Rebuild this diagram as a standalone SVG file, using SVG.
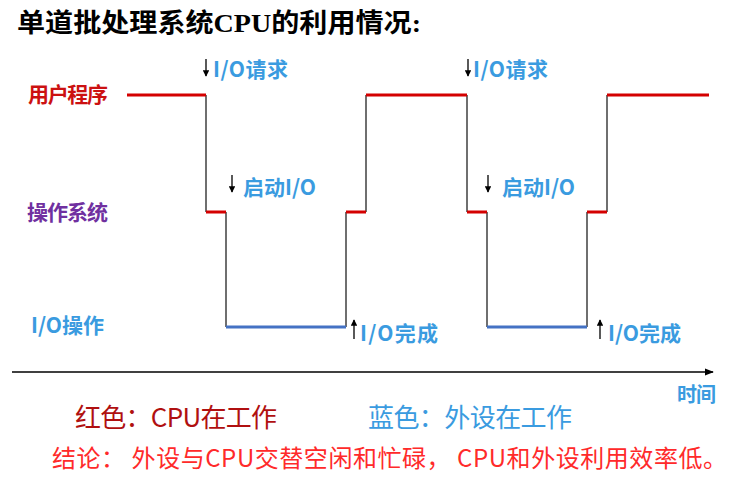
<svg xmlns="http://www.w3.org/2000/svg" width="744" height="483" viewBox="0 0 744 483">
<defs>
<style>
.t{font-family:"Noto Sans CJK SC","Liberation Sans",sans-serif}
.title{font-family:"Liberation Serif","Noto Sans CJK SC",serif;font-size:26px;font-weight:bold;fill:#000}
.lab{font-size:21px;font-weight:bold}
.ann{font-size:21px;font-weight:bold;fill:#3a9be0}
.cpu{stroke:#d40000;stroke-width:3;fill:none}
.io{stroke:#4472c4;stroke-width:3;fill:none}
.v{stroke:#333;stroke-width:1.4;fill:none}
.arr{stroke:#000;stroke-width:1.3;fill:none;marker-end:url(#ah)}
</style>
<marker id="ah" viewBox="0 0 10 10" refX="9" refY="5" markerWidth="5" markerHeight="5" orient="auto">
<path d="M0,0 L10,5 L0,10 z" fill="#000"/>
</marker>
<marker id="ax" viewBox="0 0 10 10" refX="9" refY="5" markerWidth="6" markerHeight="6" orient="auto">
<path d="M0,1 L10,5 L0,9 z" fill="#000"/>
</marker>
</defs>
<rect width="744" height="483" fill="#fff"/>
<text class="title" x="17" y="32" textLength="404" lengthAdjust="spacingAndGlyphs">单道批处理系统CPU的利用情况:</text>

<g id="label-user"><text class="t lab" x="28" y="102" fill="#cc1111" textLength="80">用户程序</text></g>
<g id="label-os"><text class="t lab" x="27" y="220" fill="#7030a0" textLength="81">操作系统</text></g>
<g id="label-io"><text class="t lab" x="31" y="333" fill="#3a9be0" textLength="73">I/O操作</text></g>

<g id="connectors">
<path class="v" d="M206,95 V212 M226,212 V327 M346,327 V212 M366,212 V95 M467,95 V212 M487,212 V327 M587,327 V212 M607,212 V95"/>
<path class="cpu" d="M127,95 H206 M206,212 H226 M346,212 H366 M366,95 H467 M467,212 H487 M587,212 H607 M607,95 H709"/>
<path class="io" d="M226,327 H346 M487,327 H587"/>
<line x1="12" y1="372" x2="713" y2="372" stroke="#000" stroke-width="1.5" marker-end="url(#ax)"/>
</g>

<g id="ann-ioreq-1"><line class="arr" x1="206" y1="59" x2="206" y2="76"/><text class="t ann" x="213" y="77" textLength="75">I/O请求</text></g>
<g id="ann-start-1"><line class="arr" x1="232" y1="175" x2="232" y2="192"/><text class="t ann" x="243" y="195" textLength="73">启动I/O</text></g>
<g id="ann-done-1"><line class="arr" x1="354" y1="339" x2="354" y2="320"/><text class="t ann" x="360" y="341" textLength="78">I/O完成</text></g>
<g id="ann-ioreq-2"><line class="arr" x1="468" y1="59" x2="468" y2="76"/><text class="t ann" x="473" y="77" textLength="75">I/O请求</text></g>
<g id="ann-start-2"><line class="arr" x1="488" y1="175" x2="488" y2="192"/><text class="t ann" x="502" y="195" textLength="73">启动I/O</text></g>
<g id="ann-done-2"><line class="arr" x1="600" y1="339" x2="600" y2="320"/><text class="t ann" x="608" y="341" textLength="73">I/O完成</text></g>

<g id="label-time"><text class="t" x="677" y="402" font-size="20" font-weight="bold" fill="#3a9be0" textLength="39">时间</text></g>
<g id="legend-red"><text class="t" x="75" y="427" font-size="26" fill="#b01010" textLength="202">红色：CPU在工作</text></g>
<g id="legend-blue"><text class="t" x="368" y="427" font-size="26" fill="#3a9be0" textLength="204">蓝色：外设在工作</text></g>
<g id="conclusion"><text class="t" x="52" y="467" font-size="24" fill="#ff2a2a" textLength="675" lengthAdjust="spacing">结论： 外设与CPU交替空闲和忙碌， CPU和外设利用效率低。</text></g>
</svg>
